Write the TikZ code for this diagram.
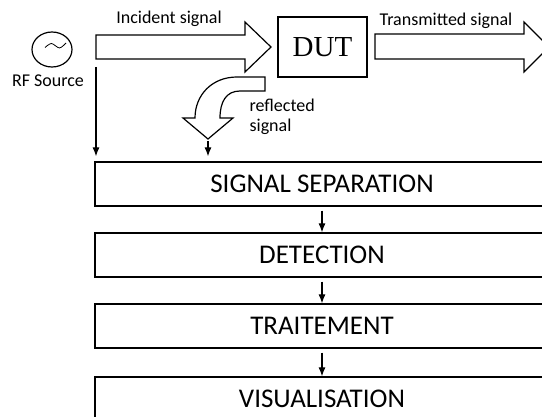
\documentclass[tikz,border=0pt]{standalone}
\usepackage{fontspec}
\setmainfont{Carlito}
\newfontfamily\dutfont{Liberation Serif}
\usetikzlibrary{shapes,arrows.meta,positioning,calc}

\begin{document}
\begin{tikzpicture}[x=1pt, y=-1pt, line width=1.2pt]
  \tikzstyle{stage}=[rectangle, draw, minimum width=454pt, minimum height=44pt, font=\fontsize{27}{30}\selectfont]
  \tikzstyle{lbl}=[font=\fontsize{18}{20}\selectfont, inner sep=0pt]
  \tikzstyle{flow}=[-{Latex[length=9pt,width=7pt]}]
  \tikzstyle{bigarrow}=[draw, fill=white, line join=miter]

  \useasboundingbox (0,0) rectangle (542,417);
  \clip (0,0) rectangle (542,417);

  \node[draw, ellipse, minimum width=40pt, minimum height=35pt, inner sep=0pt] (rf) at (52,49.5) {};
  \draw[line width=0.8pt] plot[smooth] coordinates {(45,47.5) (51.5,43.5) (59.5,48) (66,43)};
  \node[lbl] (rflbl) at (48,81) {RF Source};

  \draw[bigarrow] (96,35) -- (245,35) -- (245,22) -- (271,47) -- (245,72) -- (245,59) -- (96,59) -- cycle;
  \node[lbl] (inclbl) at (169,19) {Incident signal};

  \node[draw, minimum width=89pt, minimum height=60pt, font=\dutfont\fontsize{29}{31}\selectfont] (dut) at (322.5,47) {DUT};

  \draw[bigarrow] (375,34) -- (524,34) -- (524,22) -- (549,47) -- (524,72) -- (524,59) -- (375,59) -- cycle;
  \node[lbl] (trlbl) at (446,21) {Transmitted signal};

  \draw[bigarrow] (265,77) -- (237,77) .. controls (212,77) and (195,95) .. (195,118) -- (183,118) -- (208,139) -- (233,118) -- (220,118) .. controls (220,102) and (226,91) .. (240,91) -- (265,91) -- cycle;
  \node[lbl, anchor=north west, align=left] (refllbl) at (249,98) {reflected\\signal};

  \node[stage] (sep) at (322,184) {SIGNAL SEPARATION};
  \node[stage] (det) at (322,255) {DETECTION};
  \node[stage] (trt) at (322,326) {TRAITEMENT};
  \node[stage] (vis) at (322,399) {VISUALISATION};

  \coordinate (rfout) at (96,67);
  \coordinate (refltip) at (208,141);
  \draw[flow, shorten >=5pt] (rfout) -- (rfout |- sep.north);
  \draw[flow, shorten >=5pt] (refltip) -- (refltip |- sep.north);
  \draw[flow, shorten <=4pt] (sep.south) -- (det.north);
  \draw[flow, shorten <=4pt] (det.south) -- (trt.north);
  \draw[flow, shorten <=4pt] (trt.south) -- (vis.north);
\end{tikzpicture}
\end{document}
